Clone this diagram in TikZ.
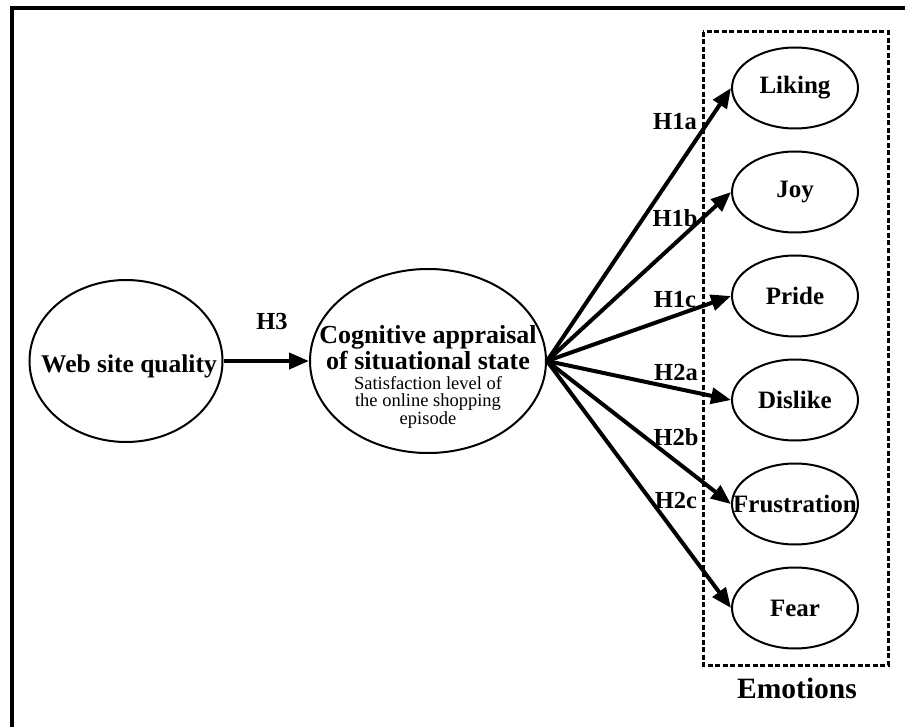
\documentclass[tikz,border=0pt]{standalone}
\usepackage{fontspec}
\setmainfont{Liberation Serif}
\usetikzlibrary{arrows.meta,shapes.geometric}
\newcommand{\zw}[1]{\makebox[0pt]{#1}}
\tikzset{
  oval/.style={ellipse, draw, line width=2pt, inner sep=0pt},
  emo/.style={oval, minimum width=126pt, minimum height=81pt, font=\fontsize{25}{27}\selectfont\bfseries},
  arr/.style={line width=4pt, -{Triangle[length=20pt,width=16pt]}},
  hlab/.style={font=\fontsize{24.5}{26}\selectfont\bfseries, inner sep=0pt},
  big/.style={font=\fontsize{26}{28}\selectfont\bfseries, inner sep=0pt},
  small/.style={font=\fontsize{18.5}{20}\selectfont, inner sep=0pt},
}
\begin{document}
\begin{tikzpicture}[x=1pt,y=-1pt]
\useasboundingbox (0,0) rectangle (905,727);
\begin{scope}
\clip (0,0) rectangle (905,727);
\draw[line width=4pt] (12,8) rectangle (930,760);
\end{scope}
% emotions box
\draw[line width=3pt, dash pattern=on 5pt off 2.5pt] (703,32) rectangle (888,665);
\node[font=\fontsize{29.5}{31}\selectfont\bfseries] (emolab) at (797,688) {Emotions};
% main ellipses
\node[oval, minimum width=193pt, minimum height=162pt] (web) at (126,361) {};
\node[big, font=\fontsize{25.5}{27}\selectfont\bfseries] (webt) at (129,366) {Web site quality};
\node[oval, minimum width=236pt, minimum height=184pt] (mid) at (428,361) {};
\node[big] (m1) at (428,337) {Cognitive appraisal};
\node[big] (m2) at (428,361) {of situational state};
\node[small] (m3) at (428,383) {Satisfaction level of};
\node[small] (m4) at (428,402) {the online shopping};
\node[small] (m5) at (428,420) {episode};
\draw[arr] (web.east) -- (mid.west);
\node[hlab] (h3) at (272,322) {H3};
% emotions
\node[emo] (e1) at (795,88) {\zw{Liking}};
\node[emo] (e2) at (795,192) {\zw{Joy}};
\node[emo] (e3) at (795,296) {\zw{Pride}};
\node[emo] (e4) at (795,400) {\zw{Dislike}};
\node[emo] (e5) at (795,504) {\zw{Frustration}};
\node[emo] (e6) at (795,608) {\zw{Fear}};
\foreach \i in {1,...,6} \draw[arr] (mid.east) -- (e\i.west);
\node[hlab] (h1a) at (675,122) {H1a};
\node[hlab] (h1b) at (675,218) {H1b};
\node[hlab] (h1c) at (675,300) {H1c};
\node[hlab] (h2a) at (676,373) {H2a};
\node[hlab] (h2b) at (676,437) {H2b};
\node[hlab] (h2c) at (676,501) {H2c};
\end{tikzpicture}
\end{document}
